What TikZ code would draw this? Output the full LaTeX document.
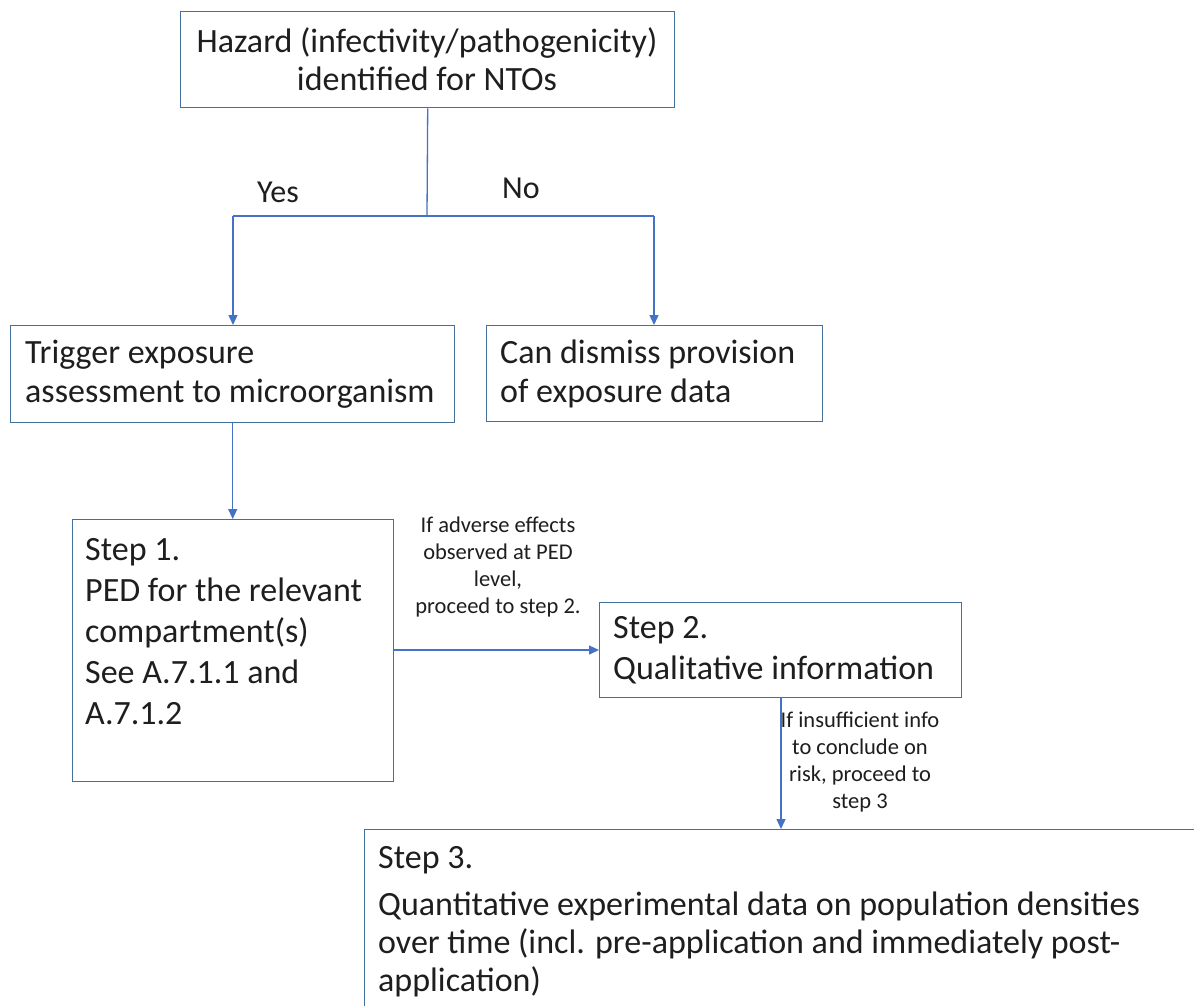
\documentclass[tikz,border=0pt]{standalone}
\usepackage{fontspec}
\setmainfont{Carlito}
\usetikzlibrary{arrows.meta}
\definecolor{boxc}{HTML}{41719C}
\definecolor{arrc}{HTML}{4472C4}
\definecolor{txt}{HTML}{1E1E1E}
\tikzset{
  box/.style={draw=boxc, line width=1.4pt, fill=white, inner sep=0pt, anchor=north west},
  conn/.style={draw=arrc, line width=1.3pt, -{Triangle[length=10pt,width=9pt]}},
  plainline/.style={draw=arrc, line width=1.3pt},
  bigl/.style={font=\fontsize{34}{40}\selectfont, text=txt, inner sep=0pt, anchor=base west},
  bigc/.style={font=\fontsize{34}{40}\selectfont, text=txt, inner sep=0pt, anchor=base},
  yn/.style={font=\fontsize{32}{38}\selectfont, text=txt, inner sep=0pt, anchor=base},
  smallc/.style={font=\fontsize{22.5}{27}\selectfont, text=txt, inner sep=0pt, anchor=base},
}
\begin{document}
\begin{tikzpicture}[x=1pt,y=-1pt]
\useasboundingbox (0,0) rectangle (1194,1005);
\clip (0,0) rectangle (1194,1005);
\fill[white] (0,0) rectangle (1194,1005);

% boxes
\node[box, minimum width=494pt, minimum height=96pt] (b1) at (180,11) {};
\node[box, minimum width=444pt, minimum height=97pt] (b2) at (10,325) {};
\node[box, minimum width=336pt, minimum height=96pt] (b3) at (486,325) {};
\node[box, minimum width=321pt, minimum height=262pt] (b4) at (72,519) {};
\node[box, minimum width=362pt, minimum height=95pt] (b5) at (599,602) {};
\node[box, minimum width=900pt, minimum height=260pt] (b6) at (364,829) {};

% box texts
\node[bigc] (t1a) at (427,52) {Hazard (infectivity/pathogenicity)};
\node[bigc] (t1b) at (427,90) {identified for NTOs};

\node[bigl] (t2a) at (25,363) {Trigger exposure};
\node[bigl] (t2b) at (25,402) {assessment to microorganism};

\node[bigl] (t3a) at (500,363) {Can dismiss provision};
\node[bigl] (t3b) at (500,402) {of exposure data};

\node[bigl] (t4a) at (85,560) {Step 1.};
\node[bigl] (t4b) at (85,601) {PED for the relevant};
\node[bigl] (t4c) at (85,642) {compartment(s)};
\node[bigl] (t4d) at (85,683) {See A.7.1.1 and};
\node[bigl] (t4e) at (85,724) {A.7.1.2};

\node[bigl] (t5a) at (613,638) {Step 2.};
\node[bigl] (t5b) at (613,679) {Qualitative information};

\node[bigl] (t6a) at (378,868) {Step 3.};
\node[bigl] (t6b) at (378,915) {Quantitative experimental data on population densities};
\node[bigl] (t6c) at (378,953) {over time (incl. pre-application and immediately post-};
\node[bigl] (t6d) at (378,991) {application)};

% connectors
\coordinate (split) at (427,216);
\coordinate (splitL) at (233,216);
\coordinate (splitR) at (654,216);
\draw[plainline] (b1.south) -- (split);
\draw[plainline] (splitL) -- (splitR);
\draw[conn] (splitL) -- (splitL |- b2.north);
\draw[conn] (splitR) -- (splitR |- b3.north);
\draw[conn] (b2.south) -- (b2.south |- b4.north);
\coordinate (a45) at (b4.east |- 0,650);
\draw[conn] (a45) -- (a45 -| b5.west);
\coordinate (a56) at (781,697);
\draw[conn] (a56) -- (a56 |- b6.north);

% labels
\node[yn] (yes) at (278,202) {Yes};
\node[yn] (no) at (521,198) {No};

\node[smallc] (s1a) at (498,532) {If adverse effects};
\node[smallc] (s1b) at (498,559) {observed at PED};
\node[smallc] (s1c) at (498,586) {level,};
\node[smallc] (s1d) at (498,613) {proceed to step 2.};

\node[smallc] (s2a) at (860,727) {If insufficient info};
\node[smallc] (s2b) at (860,754) {to conclude on};
\node[smallc] (s2c) at (860,781) {risk, proceed to};
\node[smallc] (s2d) at (860,808) {step 3};
\end{tikzpicture}
\end{document}
